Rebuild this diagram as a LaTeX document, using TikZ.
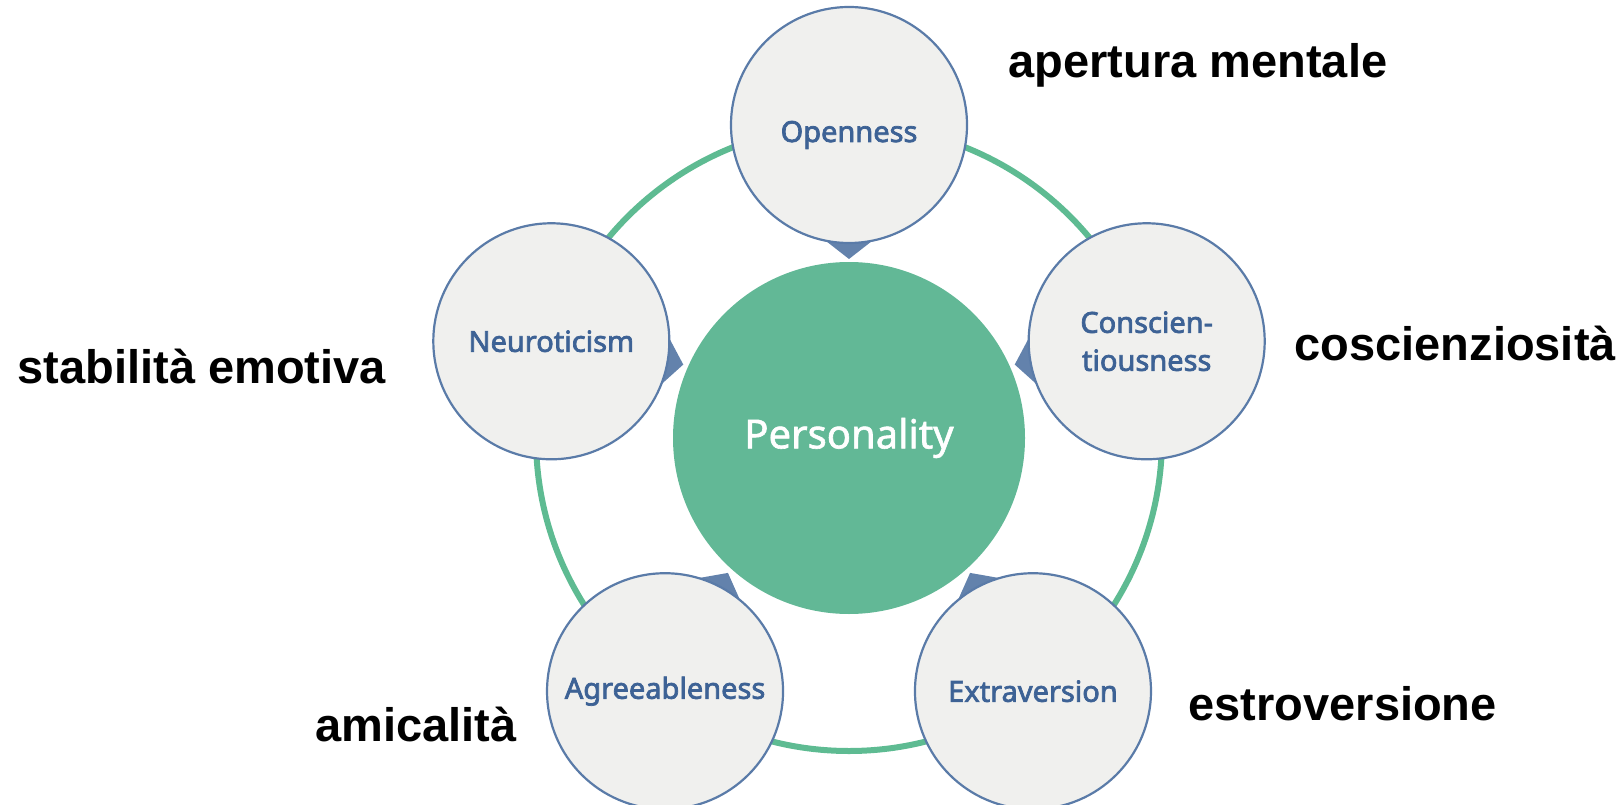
\documentclass[tikz,border=0pt]{standalone}
\usepackage{fontspec}
\setmainfont{Liberation Sans}
\newfontfamily\traitfont{Noto Sans}[FakeBold=2.5]
\newfontfamily\corefont{Noto Sans}[FakeBold=1.5]
\usetikzlibrary{positioning, calc}
\usepackage{xcolor}
\definecolor{ringgreen}{HTML}{5EBB92}
\definecolor{coregreen}{HTML}{62B896}
\definecolor{traitfill}{HTML}{F0F0EE}
\definecolor{traitline}{HTML}{5A7BA8}
\definecolor{traittext}{HTML}{3D6295}
\definecolor{pointer}{HTML}{6382AC}

\begin{document}
\begin{tikzpicture}[x=1pt, y=-1pt,
  trait/.style={circle, draw=traitline, line width=2.2pt, fill=traitfill, minimum size=236pt, inner sep=0pt, text=traittext, align=center, font=\traitfont\fontsize{29}{38}\selectfont},
  core/.style={circle, fill=coregreen, minimum size=352pt, inner sep=0pt, text=white, font=\corefont\fontsize{40}{48}\selectfont},
  gloss/.style={anchor=base west, font=\bfseries\fontsize{47}{56}\selectfont}]
  \useasboundingbox (0,0) rectangle (1624,805);

  \coordinate (mid) at (849,438);
  \draw[ringgreen, line width=6pt] (mid) circle[radius=313pt];

  % centres of the five traits
  \coordinate (o) at ($(mid)+(90:313pt)$);
  \coordinate (c) at ($(mid)+(18:313pt)$);
  \coordinate (e) at ($(mid)+(-54:313pt)$);
  \coordinate (a) at ($(mid)+(-126:313pt)$);
  \coordinate (n) at ($(mid)+(162:313pt)$);

  % pointers go under the circles
  \foreach \p/\ang in {o/270, c/190, e/118, a/62, n/350}
    \fill[pointer] ($(\p)+(\ang-11.5:118pt)$) -- ($(\p)+(\ang:134pt)$) -- ($(\p)+(\ang+11.5:118pt)$) -- cycle;

  \node[core] (pers) at (mid) {Personality};
  \node[trait, text height=34pt, text depth=0pt] (open) at (o) {Openness};
  \node[trait] (consc) at (c) {Conscien-\\tiousness};
  \node[trait] (extra) at (e) {Extraversion};
  \node[trait] (agree) at (a) {Agreeableness};
  \node[trait] (neuro) at (n) {Neuroticism};

  \node[gloss] (lopen) at (1005,78) {apertura mentale};
  \node[gloss] (lconsc) at (1291,360) {coscienziosità};
  \node[gloss] (lextra) at (1185,720) {estroversione};
  \node[gloss] (lagree) at (312,741) {amicalità};
  \node[gloss] (lneuro) at (14,383) {stabilità emotiva};
\end{tikzpicture}
\end{document}
